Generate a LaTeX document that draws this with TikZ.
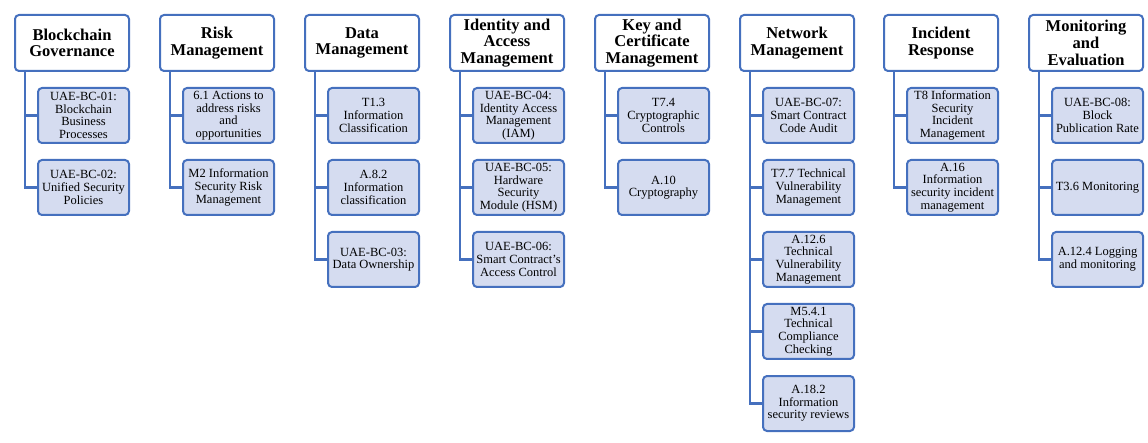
\documentclass[tikz,border=0pt]{standalone}
\usepackage{fontspec}
\setmainfont{Liberation Serif}
\definecolor{edgeblue}{HTML}{4570BE}
\definecolor{childfill}{HTML}{D5DCF0}
\tikzset{
  headbox/.style={draw=edgeblue, fill=white, line width=2pt, rounded corners=4pt,
    minimum width=114pt, minimum height=56pt, align=center, inner sep=1pt,
    font=\fontsize{16.5}{16.7}\selectfont\bfseries},
  childbox/.style={draw=edgeblue, fill=childfill, line width=2pt, rounded corners=4pt,
    minimum width=91pt, minimum height=55pt, align=center, inner sep=1pt,
    font=\fontsize{12.5}{12.6}\selectfont},
  link/.style={draw=edgeblue, line width=2.2pt}
}
% one column: header, then its children stacked below, each joined to the trunk
\newcommand{\govcol}[4]{%
  \node[headbox] (#1) at (#2+58, 43) {#3};
  \foreach \txt [count=\k] in {#4} {
    \node[childbox] (#1-\k) at (#2+69.5, 115.5+72*\k-72) {\txt};
    \draw[link] ([xshift=11pt]#1.south west) |- (#1-\k.west);
  }
}
\begin{document}
\begin{tikzpicture}[x=1pt, y=-1pt]
\useasboundingbox (0,0) rectangle (1148,443);
\govcol{bg}{14}{Blockchain\\Governance}{{UAE-BC-01:\\Blockchain\\Business\\Processes},{UAE-BC-02:\\Unified Security\\Policies}}
\govcol{rm}{159}{Risk\\Management}{{6.1 Actions to\\address risks\\and\\opportunities},{M2 Information\\Security Risk\\Management}}
\govcol{dm}{304}{Data\\Management}{{T1.3\\Information\\Classification},{A.8.2\\Information\\classification},{UAE-BC-03:\\Data Ownership}}
\govcol{iam}{449}{Identity and\\Access\\Management}{{UAE-BC-04:\\Identity Access\\Management\\(IAM)},{UAE-BC-05:\\Hardware\\Security\\Module (HSM)},{UAE-BC-06:\\Smart Contract's\\Access Control}}
\govcol{kcm}{594}{Key and\\Certificate\\Management}{{T7.4\\Cryptographic\\Controls},{A.10\\Cryptography}}
\govcol{nm}{739}{Network\\Management}{{UAE-BC-07:\\Smart Contract\\Code Audit},{T7.7 Technical\\Vulnerability\\Management},{A.12.6\\Technical\\Vulnerability\\Management},{M5.4.1\\Technical\\Compliance\\Checking},{A.18.2\\Information\\security reviews}}
\govcol{ir}{883}{Incident\\Response}{{T8 Information\\Security\\Incident\\Management},{A.16\\Information\\security incident\\management}}
\govcol{me}{1028}{Monitoring\\and\\Evaluation}{{UAE-BC-08:\\Block\\Publication Rate},{T3.6 Monitoring},{A.12.4 Logging\\and monitoring}}
\end{tikzpicture}
\end{document}
